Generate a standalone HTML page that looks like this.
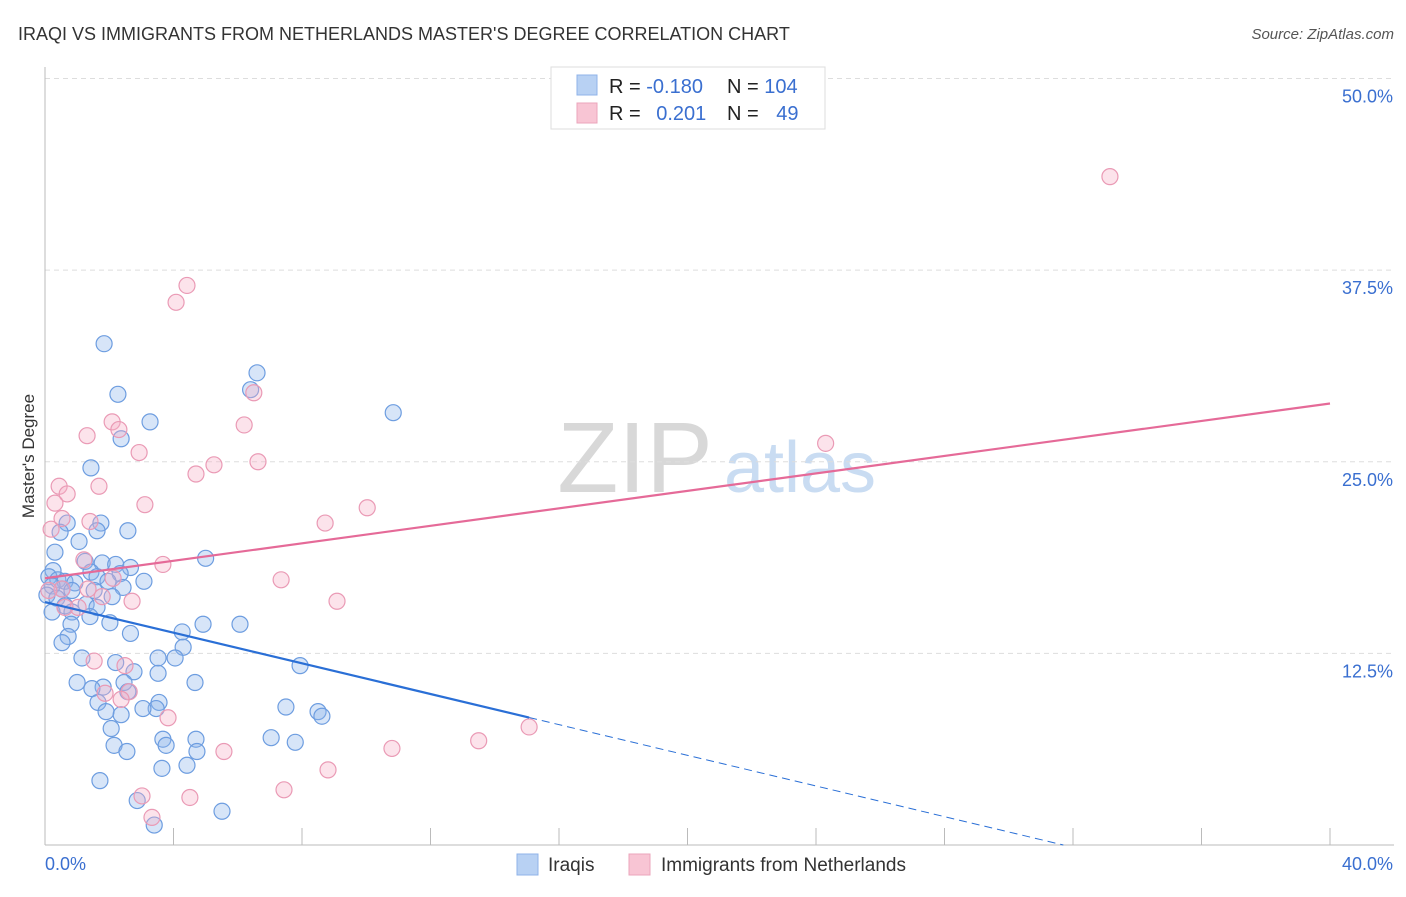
<!DOCTYPE html>
<html><head><meta charset="utf-8"><style>
body{margin:0;background:#fff;font-family:"Liberation Sans",sans-serif;}
svg text{font-family:"Liberation Sans",sans-serif;}
</style></head><body>
<svg id="chart" width="1406" height="892" xmlns="http://www.w3.org/2000/svg">
<text x="18" y="40" font-size="18" fill="#333">IRAQI VS IMMIGRANTS FROM NETHERLANDS MASTER'S DEGREE CORRELATION CHART</text>
<text x="1394" y="39" font-size="15" fill="#555" font-style="italic" text-anchor="end">Source: ZipAtlas.com</text>
<text x="34" y="456" font-size="17" fill="#333" text-anchor="middle" transform="rotate(-90 34 456)">Master's Degree</text>
<g>
<text x="635" y="492" font-size="100" fill="#d8d8d8" font-family="Liberation Serif" text-anchor="middle">ZIP</text>
<text x="800" y="492" font-size="72" fill="#c9dcf2" text-anchor="middle">atlas</text>
</g>
<g id="grid"></g><g id="marks"></g>
<g>
<rect x="551" y="67" width="274" height="62" fill="#fff" stroke="#ddd"/>
<rect x="577" y="75" width="20" height="20" fill="#b8d1f3" stroke="#8fb3e8"/>
<rect x="577" y="103" width="20" height="20" fill="#f8c5d4" stroke="#eba5bb"/>
<text x="609" y="93" font-size="20" fill="#222">R = <tspan fill="#3a6fd0">-0.180</tspan></text>
<text x="727" y="93" font-size="20" fill="#222">N = <tspan fill="#3a6fd0">104</tspan></text>
<text x="609" y="120" font-size="20" fill="#222">R = <tspan fill="#3a6fd0" dx="10">0.201</tspan></text>
<text x="727" y="120" font-size="20" fill="#222">N = <tspan fill="#3a6fd0" dx="12">49</tspan></text>
</g>
<g>
<rect x="517" y="854" width="21" height="21" fill="#b8d1f3" stroke="#8fb3e8"/>
<text x="548" y="871" font-size="19" fill="#333">Iraqis</text>
<rect x="629" y="854" width="21" height="21" fill="#f8c5d4" stroke="#eba5bb"/>
<text x="661" y="871" font-size="19" fill="#333">Immigrants from Netherlands</text>
</g>
</svg>
<script>
const yTicks=[12.5,25,37.5,50];
const yTickLabels=["12.5%","25.0%","37.5%","50.0%"];
const xTicks=[0,4,8,12,16,20,24,28,32,36,40];
const iraqiX=[1.84,6.6,6.4,2.27,10.84,3.27,2.37,1.43,0.69,1.74,0.47,1.62,2.58,1.06,0.31,5.0,1.25,1.78,2.2,2.66,0.25,1.43,2.34,1.62,0.12,0.4,0.62,3.08,0.93,1.96,0.22,0.53,0.84,2.43,1.53,0.06,0.37,2.09,0.62,1.28,1.62,0.22,0.84,1.4,2.02,0.81,4.92,6.07,4.27,0.72,2.66,0.53,4.3,3.52,4.05,1.15,2.2,7.94,2.77,3.52,1.0,4.67,2.46,1.81,1.46,2.58,1.65,3.55,3.46,3.05,7.5,8.5,1.9,2.37,8.62,2.06,3.67,4.7,7.04,7.79,3.77,2.15,4.73,2.55,4.42,3.64,1.71,2.87,5.51,3.4];
const iraqiY=[32.7,30.8,29.7,29.4,28.2,27.6,26.5,24.6,21.0,21.0,20.4,20.5,20.5,19.8,19.1,18.7,18.5,18.4,18.3,18.1,17.9,17.8,17.7,17.5,17.5,17.3,17.2,17.2,17.1,17.2,16.9,16.7,16.6,16.8,16.6,16.3,16.1,16.2,15.6,15.7,15.5,15.2,15.2,14.9,14.5,14.4,14.4,14.4,13.9,13.6,13.8,13.2,12.9,12.2,12.2,12.2,11.9,11.7,11.3,11.2,10.6,10.6,10.6,10.3,10.2,10.0,9.3,9.3,8.9,8.9,9.0,8.7,8.7,8.5,8.4,7.6,6.9,6.9,7.0,6.7,6.5,6.5,6.1,6.1,5.2,5.0,4.2,2.9,2.2,1.3];
const nethX=[33.15,4.42,4.08,6.5,2.09,2.3,6.2,24.3,1.31,2.93,6.63,5.26,4.7,1.68,0.44,0.69,0.31,3.11,10.03,0.53,1.4,8.72,0.19,1.21,3.67,2.12,7.35,0.53,1.34,0.12,1.78,9.09,2.71,0.62,1.03,1.53,2.49,2.62,1.87,2.37,3.83,15.07,13.5,10.8,5.57,8.81,4.51,7.44,3.02,3.33];
const nethY=[43.6,36.5,35.4,29.5,27.6,27.1,27.4,26.2,26.7,25.6,25.0,24.8,24.2,23.4,23.4,22.9,22.3,22.2,22.0,21.3,21.1,21.0,20.6,18.6,18.3,17.4,17.3,16.7,16.7,16.6,16.2,15.9,15.9,15.5,15.5,12.0,11.7,10.0,9.9,9.5,8.3,7.7,6.8,6.3,6.1,4.9,3.1,3.6,3.2,1.8];
const iraqiTrend=[15.85,-0.5];
const nethTrend=[17.4,0.285];
const sx=v=>45+v*32.125, sy=v=>845-v*15.33;
const NS="http://www.w3.org/2000/svg";
function mk(t,a,p){const e=document.createElementNS(NS,t);for(const k in a)e.setAttribute(k,a[k]);p.appendChild(e);return e;}
const grid=document.getElementById('grid'), marks=document.getElementById('marks');
yTicks.forEach((t,i)=>{
 const g=mk('line',{x1:45,x2:1394,y1:sy(t),y2:sy(t),stroke:'#ddd','stroke-dasharray':'5,4'},grid);
 
 
 const l=mk('text',{x:1393,y:sy(t)+24,'font-size':18,fill:'#3a6fd0','text-anchor':'end'},grid);
 l.textContent=yTickLabels[i];
 
 
});
const ax=mk('line',{x1:45,x2:45,y1:67,y2:845,stroke:'#bbb'},grid);


const bx=mk('line',{x1:45,x2:1394,y1:845,y2:845,stroke:'#bbb'},grid);


xTicks.forEach(t=>{const e=mk('line',{x1:sx(t),x2:sx(t),y1:828,y2:845,stroke:'#bbb'},grid);
 
 });
const x0=mk('text',{x:45,y:870,'font-size':18,fill:'#3a6fd0'},grid);x0.textContent='0.0%';


const x1=mk('text',{x:1393,y:870,'font-size':18,fill:'#3a6fd0','text-anchor':'end'},grid);x1.textContent='40.0%';


iraqiX.forEach((v,i)=>{const c=mk('circle',{cx:sx(v),cy:sy(iraqiY[i]),r:8,fill:'rgba(140,180,235,0.35)',stroke:'#6d9de0','stroke-width':1.2},marks);
 
 });
nethX.forEach((v,i)=>{const c=mk('circle',{cx:sx(v),cy:sy(nethY[i]),r:8,fill:'rgba(245,175,198,0.35)',stroke:'#ea9ab5','stroke-width':1.2},marks);
 
 });
const xe=15.07, xz=-iraqiTrend[0]/iraqiTrend[1];
const bl=mk('line',{x1:sx(0),y1:sy(iraqiTrend[0]),x2:sx(xe),y2:sy(iraqiTrend[0]+iraqiTrend[1]*xe),stroke:'#2a6fd6','stroke-width':2.2},marks);


const bd=mk('line',{x1:sx(xe),y1:sy(iraqiTrend[0]+iraqiTrend[1]*xe),x2:sx(xz),y2:sy(0),stroke:'#2a6fd6','stroke-width':1,'stroke-dasharray':'8,5'},marks);


const pl=mk('line',{x1:sx(0),y1:sy(nethTrend[0]),x2:sx(40),y2:sy(nethTrend[0]+nethTrend[1]*40),stroke:'#e56a98','stroke-width':2.2},marks);


</script>
</body></html>
